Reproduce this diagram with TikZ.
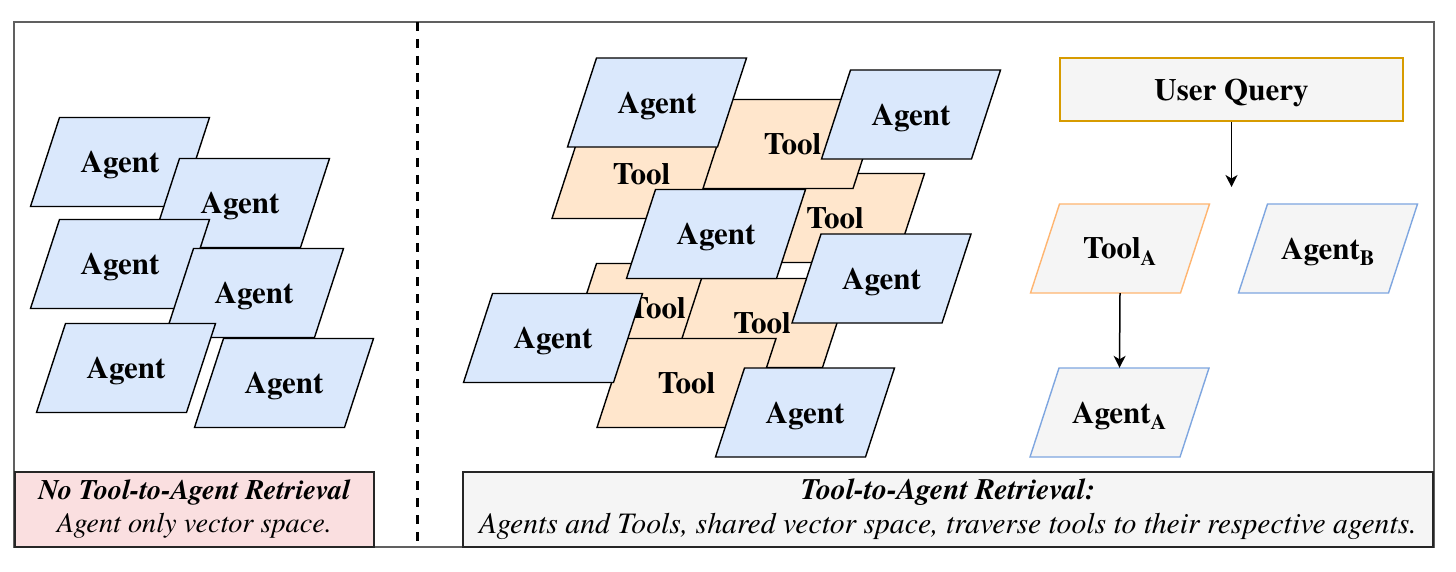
\documentclass[tikz,border=0pt]{standalone}
\usepackage{fontspec}
\setmainfont{texgyretermes}[Extension=.otf,UprightFont=*-regular,BoldFont=*-bold,ItalicFont=*-italic,BoldItalicFont=*-bolditalic]
\usetikzlibrary{arrows.meta}
\definecolor{agentfill}{HTML}{DAE8FC}
\definecolor{toolfill}{HTML}{FFE6CC}
\definecolor{greyfill}{HTML}{F5F5F5}
\definecolor{pinkfill}{HTML}{FADFE0}
\definecolor{blueline}{HTML}{7EA6E0}
\definecolor{orangeline}{HTML}{FFB570}
\definecolor{goldline}{HTML}{D79B00}
\definecolor{framegray}{HTML}{606060}
% \para{name}{cx}{cy}{style}{text}
\newcommand\para[5]{%
  \path[#4,shift={(#2,#3)}] (-60.5,-44.5) -- (89.5,-44.5) -- (60.5,44.5) -- (-89.5,44.5) -- cycle;
  \node[lbl] (#1) at (#2,#3) {#5};}
\begin{document}
\begin{tikzpicture}[x=1pt,y=-1pt,
  agentpara/.style={draw=black,fill=agentfill,line width=1.4pt,line join=miter},
  toolpara/.style={draw=black,fill=toolfill,line width=1.4pt,line join=miter},
  qtool/.style={draw=orangeline,fill=greyfill,line width=1.4pt,line join=miter},
  qagent/.style={draw=blueline,fill=greyfill,line width=1.4pt,line join=miter},
  lbl/.style={font=\fontsize{31}{36}\selectfont\bfseries,inner sep=0pt,text depth=0pt,minimum width=150pt,minimum height=89pt},
  flow/.style={-{Stealth[length=12pt,width=12pt,inset=3.5pt]},line width=1.5pt},
  caption/.style={draw=black!85,line width=1.4pt,inner sep=0pt,align=center},
  divider/.style={line width=3pt,dash pattern=on 9pt off 8pt}
]
\useasboundingbox (0,0) rectangle (1456,572);
\fill[white] (0,0) rectangle (1456,572);
% outer frame
\draw[framegray,line width=1.4pt] (14,22) rectangle (1434,547);
% divider
\coordinate (dtop) at (417,22);
\coordinate (dbot) at (417,547);
\draw[divider] (dtop) -- (dbot);

% left cluster: agents only
\para{L1}{120}{162}{agentpara}{Agent}
\para{L2}{240}{203}{agentpara}{Agent}
\para{L3}{120}{264}{agentpara}{Agent}
\para{L4}{254}{293}{agentpara}{Agent}
\para{L5}{126}{368}{agentpara}{Agent}
\para{L6}{284}{383}{agentpara}{Agent}

% middle cluster: tools
\para{MT3}{835}{218}{toolpara}{Tool}
\para{MT1}{641.5}{174}{toolpara}{Tool}
\para{MT2}{792.5}{144}{toolpara}{Tool}
\para{MT4}{657}{308}{toolpara}{Tool}
\para{MT5}{762}{323}{toolpara}{Tool}
\para{MT6}{686.5}{383}{toolpara}{Tool}
% middle cluster: agents
\para{MA1}{657}{102.5}{agentpara}{Agent}
\para{MA2}{911}{114.5}{agentpara}{Agent}
\para{MAc}{716}{234}{agentpara}{Agent}
\para{MA3}{881.5}{278.5}{agentpara}{Agent}
\para{MA4}{553}{338}{agentpara}{Agent}
\para{MA5}{805}{412.5}{agentpara}{Agent}

% right: retrieval flow
\node[draw=goldline,fill=greyfill,line width=1.4pt,minimum width=343pt,minimum height=63pt,inner sep=0pt,text depth=0pt,
      font=\fontsize{31}{36}\selectfont\bfseries] (UQ) at (1231.5,89.5) {User Query};
\coordinate (qend) at (1231.5,187);
\para{TA}{1120}{248.5}{qtool}{Tool\textsubscript{A}}
\para{AB}{1328}{248.5}{qagent}{Agent\textsubscript{B}}
\para{AA}{1119.5}{412.5}{qagent}{Agent\textsubscript{A}}
\draw[flow] (UQ.south) -- (qend);
\draw[flow] (TA.south) -- (AA.north);

% captions
\node[caption,fill=pinkfill,minimum width=359pt,minimum height=75pt,font=\fontsize{28.3}{33}\selectfont] (capL) at (194.5,509.5)
  {\textbf{\textit{No Tool-to-Agent Retrieval}}\\\textit{Agent only vector space.}};
\node[caption,fill=greyfill,minimum width=970pt,minimum height=75pt,font=\fontsize{29.7}{34}\selectfont] (capR) at (948,509.5)
  {\textbf{\textit{Tool-to-Agent Retrieval:}}\\\textit{Agents and Tools, shared vector space, traverse tools to their respective agents.}};
\end{tikzpicture}
\end{document}
